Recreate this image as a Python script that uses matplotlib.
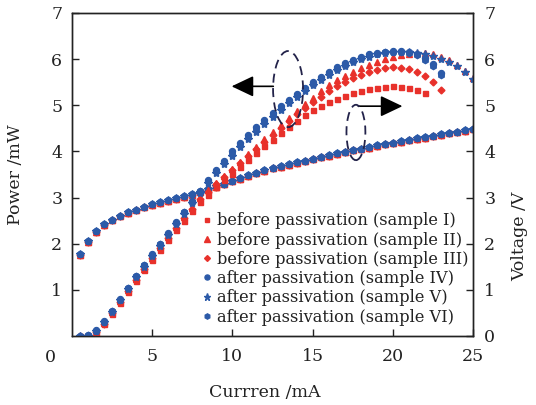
import matplotlib.pyplot as plt
from matplotlib.patches import Ellipse

plt.rcParams['font.family'] = 'DejaVu Serif'
plt.rcParams['font.size'] = 12

# Drive current sweep (mA)
current = [0.5, 1.0, 1.5, 2.0, 2.5, 3.0, 3.5, 4.0, 4.5, 5.0,
           5.5, 6.0, 6.5, 7.0, 7.5, 8.0, 8.5, 9.0, 9.5, 10.0,
           10.5, 11.0, 11.5, 12.0, 12.5, 13.0, 13.5, 14.0, 14.5, 15.0,
           15.5, 16.0, 16.5, 17.0, 17.5, 18.0, 18.5, 19.0, 19.5, 20.0,
           20.5, 21.0, 21.5, 22.0, 22.5, 23.0, 23.5, 24.0, 24.5, 25.0]

# Output power (mW)
power_s1 = [0.00, 0.00, 0.07, 0.26, 0.48, 0.72, 0.96, 1.20, 1.43, 1.65,
            1.87, 2.08, 2.29, 2.50, 2.70, 2.90, 3.06, 3.22, 3.37, 3.52,
            3.67, 3.82, 3.97, 4.11, 4.25, 4.39, 4.53, 4.66, 4.78, 4.89,
            4.98, 5.06, 5.14, 5.21, 5.27, 5.31, 5.35, 5.38, 5.40, 5.41,
            5.40, 5.37, 5.33, 5.27]
power_s2 = [0.00, 0.01, 0.09, 0.28, 0.51, 0.75, 0.99, 1.23, 1.46, 1.69,
            1.92, 2.14, 2.36, 2.57, 2.78, 2.98, 3.16, 3.32, 3.47, 3.62,
            3.78, 3.94, 4.10, 4.26, 4.42, 4.58, 4.73, 4.88, 5.02, 5.16,
            5.30, 5.43, 5.54, 5.64, 5.73, 5.81, 5.88, 5.94, 6.00, 6.05,
            6.09, 6.12, 6.14, 6.13, 6.10, 6.05, 5.98, 5.88, 5.75, 5.58]
power_s3 = [0.00, 0.01, 0.08, 0.27, 0.50, 0.74, 0.98, 1.22, 1.45, 1.68,
            1.91, 2.13, 2.35, 2.56, 2.76, 2.96, 3.13, 3.29, 3.44, 3.59,
            3.74, 3.90, 4.06, 4.21, 4.36, 4.51, 4.66, 4.80, 4.93, 5.06,
            5.18, 5.30, 5.41, 5.50, 5.58, 5.65, 5.71, 5.76, 5.80, 5.82,
            5.81, 5.78, 5.72, 5.63, 5.50, 5.33]
power_s4 = [0.00, 0.02, 0.12, 0.32, 0.55, 0.80, 1.05, 1.30, 1.54, 1.77,
            2.00, 2.23, 2.46, 2.69, 2.92, 3.15, 3.38, 3.60, 3.80, 4.00,
            4.18, 4.35, 4.52, 4.68, 4.83, 4.98, 5.12, 5.25, 5.38, 5.50,
            5.62, 5.72, 5.82, 5.91, 5.99, 6.05, 6.10, 6.14, 6.16, 6.17,
            6.17, 6.15, 6.10, 6.02, 5.90, 5.70]
power_s5 = [0.00, 0.01, 0.10, 0.30, 0.52, 0.77, 1.02, 1.27, 1.50, 1.73,
            1.96, 2.19, 2.42, 2.65, 2.88, 3.10, 3.32, 3.53, 3.72, 3.91,
            4.09, 4.26, 4.43, 4.59, 4.75, 4.90, 5.04, 5.18, 5.31, 5.43,
            5.55, 5.66, 5.76, 5.85, 5.93, 6.00, 6.05, 6.10, 6.13, 6.15,
            6.16, 6.16, 6.14, 6.11, 6.07, 6.01, 5.94, 5.85, 5.73, 5.57]
power_s6 = [0.00, 0.02, 0.11, 0.31, 0.54, 0.79, 1.04, 1.29, 1.53, 1.76,
            1.99, 2.22, 2.45, 2.68, 2.91, 3.14, 3.36, 3.58, 3.78, 3.97,
            4.15, 4.32, 4.49, 4.65, 4.80, 4.95, 5.09, 5.22, 5.35, 5.47,
            5.58, 5.69, 5.79, 5.88, 5.96, 6.03, 6.08, 6.12, 6.15, 6.16,
            6.16, 6.13, 6.08, 5.99, 5.86, 5.65]

# Forward voltage (V)
voltage_before = [1.76, 2.03, 2.25, 2.40, 2.51, 2.60, 2.67, 2.73, 2.79, 2.84,
                  2.89, 2.93, 2.97, 3.02, 3.06, 3.11, 3.17, 3.23, 3.29, 3.35,
                  3.41, 3.47, 3.53, 3.58, 3.63, 3.67, 3.71, 3.75, 3.79, 3.83,
                  3.87, 3.91, 3.95, 3.98, 4.02, 4.05, 4.08, 4.12, 4.15, 4.18,
                  4.21, 4.24, 4.27, 4.30, 4.33, 4.36, 4.39, 4.42, 4.45, 4.48]
voltage_after = [1.78, 2.05, 2.27, 2.42, 2.52, 2.61, 2.68, 2.74, 2.80, 2.85,
                 2.90, 2.94, 2.98, 3.03, 3.07, 3.12, 3.18, 3.24, 3.30, 3.36,
                 3.42, 3.48, 3.54, 3.59, 3.64, 3.68, 3.72, 3.76, 3.80, 3.84,
                 3.88, 3.92, 3.96, 3.99, 4.03, 4.06, 4.09, 4.13, 4.16, 4.19,
                 4.22, 4.25, 4.28, 4.31, 4.34, 4.37, 4.40, 4.43, 4.46, 4.49]

labels = ['before passivation (sample I)', 'before passivation (sample II)',
          'before passivation (sample III)', 'after passivation (sample IV)',
          'after passivation (sample V)', 'after passivation (sample VI)']

red = '#e8312b'
blue = '#2c5aa8'
styles = [(red, 's', 3.6), (red, '^', 4.4), (red, 'D', 3.5),
          (blue, 'o', 4.3), (blue, '*', 6.0), (blue, 'h', 4.5)]
powers = [power_s1, power_s2, power_s3, power_s4, power_s5, power_s6]
voltages = [voltage_before] * 3 + [voltage_after] * 3

fig, ax = plt.subplots(figsize=(5.36, 4.05), dpi=100)
fig.subplots_adjust(left=0.1343, right=0.8825, bottom=0.1704, top=0.968)
ax2 = ax.twinx()

handles = []
for p, lab, (c, m, ms) in zip(powers, labels, styles):
    h, = ax.plot(current[:len(p)], p, linestyle='none', marker=m, ms=ms,
                 color=c, mec=c, label=lab)
    handles.append(h)
for v, (c, m, ms) in zip(voltages, styles):
    ax2.plot(current[:len(v)], v, linestyle='none', marker=m, ms=ms,
             color=c, mec=c)

for a in (ax, ax2):
    a.set_xlim(0, 25)
    a.set_ylim(0, 7)
    a.tick_params(direction='in', length=5, width=1, colors='#222222',
                  labelsize=12.5)
    for s in a.spines.values():
        s.set_linewidth(1.0)
        s.set_color('#222222')

ax.set_xticks([5, 10, 15, 20, 25])
ax.set_yticks([1, 2, 3, 4, 5, 6, 7])
ax2.set_yticks([0, 1, 2, 3, 4, 5, 6, 7])
ax.tick_params(axis='x', pad=9)
ax.tick_params(axis='y', pad=7)
ax2.tick_params(axis='y', pad=8)
ax.text(-0.04, -0.04, '0', transform=ax.transAxes, ha='right', va='top',
        fontsize=12.5, color='#222222')

ax.set_xlabel('Currren /mA', fontsize=12.5, color='#222222')
ax.set_ylabel('Power /mW', fontsize=12.5, color='#222222')
ax2.set_ylabel('Voltage /V', fontsize=12.5, color='#222222')
ax.xaxis.set_label_coords(0.48, -0.15)
ax.yaxis.set_label_coords(-0.12, 0.5)
ax2.yaxis.set_label_coords(1.095, 0.31)

# dashed ellipses grouping the power and voltage curves, with pointers to their axes
ax.add_patch(Ellipse((13.47, 5.35), 1.87, 1.65, fill=False, ec='#23234a',
                     lw=1.3, ls=(0, (5, 3)), zorder=5))
ax.add_patch(Ellipse((17.7, 4.41), 1.18, 1.2, fill=False, ec='#23234a',
                     lw=1.3, ls=(0, (5, 3)), zorder=5))
arrow = dict(arrowstyle='-|>,head_length=0.8,head_width=0.38', color='black',
             lw=1.2, mutation_scale=17, shrinkA=0, shrinkB=0)
ax.annotate('', xy=(9.95, 5.41), xytext=(12.55, 5.41), arrowprops=arrow)
ax.annotate('', xy=(20.6, 4.98), xytext=(17.85, 4.98), arrowprops=arrow)

ax.legend(handles=handles, loc='upper left', bbox_to_anchor=(0.325, 0.383),
          frameon=False, handlelength=0.6, handletextpad=0.3,
          labelspacing=0.14, borderpad=0, borderaxespad=0, fontsize=11.7,
          labelcolor='#222222', markerscale=0.85)
ax.set_zorder(ax2.get_zorder() + 1)
ax.patch.set_visible(False)

fig.savefig('out.png', dpi=100)
